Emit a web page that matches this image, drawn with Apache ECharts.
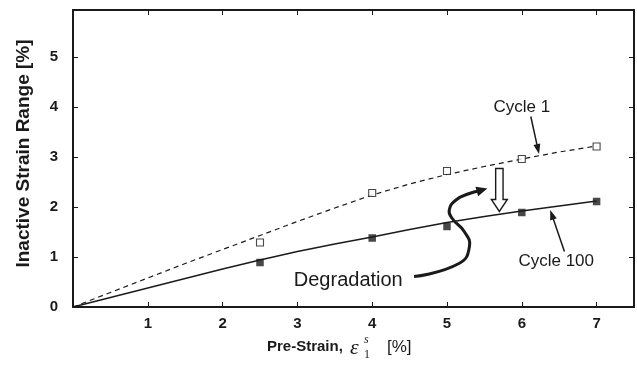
<!DOCTYPE html>
<html>
<head>
<meta charset="utf-8">
<script src="https://cdn.jsdelivr.net/npm/echarts@6/dist/echarts.min.js"></script>
<style>html,body{margin:0;padding:0;background:#fff}#c{width:637px;height:372px}</style>
</head>
<body>
<div id="c"></div>
<script>
// ---- data ----
const strain = [2.5, 4, 5, 6, 7];
const cycle1 = [1.29, 2.28, 2.72, 2.96, 3.21];
const cycle100 = [0.89, 1.38, 1.61, 1.89, 2.11];
const fitX = [0, 0.5, 1, 1.5, 2, 2.5, 3, 3.5, 4, 4.5, 5, 5.5, 6, 6.5, 7];
const fitCycle1 = [0, 0.29, 0.58, 0.87, 1.15, 1.43, 1.71, 1.98, 2.24, 2.46, 2.65, 2.81, 2.96, 3.10, 3.22];
const fitCycle100 = [0, 0.19, 0.38, 0.57, 0.76, 0.94, 1.11, 1.26, 1.40, 1.55, 1.69, 1.81, 1.92, 2.02, 2.12];
const xTicks = [1, 2, 3, 4, 5, 6, 7];
const yTicks = [0, 1, 2, 3, 4, 5];
// annotations (data units)
const cycle1Label = [6.0, 4.0];
const cycle1Arrow = [[6.12, 3.81], [6.23, 3.06]];
const cycle100Label = [6.46, 0.91];
const cycle100Arrow = [[6.57, 1.11], [6.38, 1.94]];
const degradationLabel = [3.68, 0.53];
const sCurve = [[4.56, 0.61], [5.16, 0.87], [5.30, 1.21], [5.23, 1.51], [5.07, 1.77], [5.03, 1.94], [5.12, 2.14], [5.30, 2.27], [5.54, 2.37]];
const hollowArrow = {x: 5.7, top: 2.77, headStart: 2.15, tip: 1.91};

const INK = '#1a1a1a';
const SANS = '"Liberation Sans", Arial, Helvetica, sans-serif';
const SERIF = '"Liberation Serif", "Times New Roman", serif';

const chart = echarts.init(document.getElementById('c'), null, {renderer: 'canvas'});
const pair = (xs, ys) => xs.map((x, i) => [x, ys[i]]);

const axisCommon = {
  type: 'value',
  axisLine: {show: true, onZero: false, lineStyle: {color: INK, width: 2}},
  axisTick: {show: true, inside: true, length: 5, lineStyle: {color: INK, width: 1}},
  splitLine: {show: false}
};

chart.setOption({
  animation: false,
  backgroundColor: '#fff',
  grid: {left: 73, right: 3, top: 10, bottom: 65, containLabel: false},
  xAxis: [
    Object.assign({}, axisCommon, {
      min: 0, max: 7.5, interval: 1, position: 'bottom',
      axisLabel: {margin: 9, color: INK, fontFamily: SANS, fontWeight: 'bold', fontSize: 15,
        formatter: v => xTicks.includes(v) ? String(v) : ''}
    }),
    Object.assign({}, axisCommon, {
      min: 0, max: 7.5, interval: 1, position: 'top', axisLabel: {show: false}
    })
  ],
  yAxis: [
    Object.assign({}, axisCommon, {
      min: 0, max: 5.94, interval: 1, position: 'left',
      name: 'Inactive Strain Range [%]', nameLocation: 'middle', nameGap: 40,
      nameTextStyle: {color: INK, fontFamily: SANS, fontWeight: 'bold', fontSize: 19, padding: [0, 0, 0, 10]},
      axisLabel: {margin: 15, color: INK, fontFamily: SANS, fontWeight: 'bold', fontSize: 15,
        formatter: v => yTicks.includes(v) ? String(v) : ''}
    }),
    Object.assign({}, axisCommon, {
      min: 0, max: 5.94, interval: 1, position: 'right', axisLabel: {show: false}
    })
  ],
  series: [
    {type: 'line', name: 'fit1', data: pair(fitX, fitCycle1), showSymbol: false, symbol: 'none',
      lineStyle: {color: INK, width: 1.2, type: [5, 4]}, z: 2},
    {type: 'line', name: 'fit100', data: pair(fitX, fitCycle100), showSymbol: false, symbol: 'none',
      lineStyle: {color: INK, width: 1.4}, z: 2},
    {type: 'scatter', name: 'Cycle 1', data: pair(strain, cycle1), symbol: 'rect', symbolSize: 7,
      itemStyle: {color: '#fff', borderColor: INK, borderWidth: 1.1}, z: 3},
    {type: 'scatter', name: 'Cycle 100', data: pair(strain, cycle100), symbol: 'rect', symbolSize: 7.5,
      itemStyle: {color: INK}, z: 3}
  ]
});

const px = p => chart.convertToPixel({xAxisIndex: 0, yAxisIndex: 0}, p);

function arrow(p0, p1, headLen, headHalf, width) {
  const a = px(p0), b = px(p1);
  const dx = b[0] - a[0], dy = b[1] - a[1];
  const L = Math.hypot(dx, dy); const ux = dx / L, uy = dy / L;
  const bx = b[0] - ux * headLen, by = b[1] - uy * headLen;
  return [
    {type: 'line', shape: {x1: a[0], y1: a[1], x2: bx + ux, y2: by + uy},
      style: {stroke: INK, lineWidth: width}, z: 10},
    {type: 'polygon', shape: {points: [b, [bx - uy * headHalf, by + ux * headHalf], [bx + uy * headHalf, by - ux * headHalf]]},
      style: {fill: INK}, z: 10}
  ];
}

function label(text, at, size) {
  const p = px(at);
  return {type: 'text', x: p[0], y: p[1], z: 10,
    style: {text: text, fill: INK, font: size + 'px ' + SANS, align: 'center', verticalAlign: 'middle'}};
}

const g = [];
g.push(label('Cycle 1', cycle1Label, 17));
g.push(...arrow(cycle1Arrow[0], cycle1Arrow[1], 10, 3.5, 1.5));
g.push(label('Cycle 100', cycle100Label, 17));
g.push(...arrow(cycle100Arrow[0], cycle100Arrow[1], 10, 3.5, 1.5));
g.push(label('Degradation', degradationLabel, 20));

// S-shaped arrow
const sp = sCurve.map(px);
const last = sp[sp.length - 1], prev = sp[sp.length - 2];
{
  const dx = last[0] - prev[0], dy = last[1] - prev[1];
  const L = Math.hypot(dx, dy); const ux = dx / L, uy = dy / L;
  const hl = 11, hh = 5;
  const bx = last[0] - ux * hl, by = last[1] - uy * hl;
  const body = sp.slice(0, -1).concat([[bx + ux * 2, by + uy * 2]]);
  g.push({type: 'polyline', shape: {points: body, smooth: 0.5}, style: {stroke: INK, lineWidth: 3, fill: null}, z: 10});
  g.push({type: 'polygon', shape: {points: [last, [bx - uy * hh, by + ux * hh], [bx + uy * hh, by - ux * hh]]}, style: {fill: INK}, z: 10});
}

// hollow block arrow
{
  const t = px([hollowArrow.x, hollowArrow.top]);
  const h = px([hollowArrow.x, hollowArrow.headStart]);
  const tip = px([hollowArrow.x, hollowArrow.tip]);
  const sw = 3.7, hw = 8;
  g.push({type: 'polygon', z: 10, shape: {points: [
    [t[0] - sw, t[1]], [t[0] + sw, t[1]], [t[0] + sw, h[1]], [t[0] + hw, h[1]],
    [tip[0], tip[1]], [t[0] - hw, h[1]], [t[0] - sw, h[1]]]},
    style: {fill: '#fff', stroke: INK, lineWidth: 1.4}});
}

// x-axis title with epsilon notation
const xTitleY = 347;
g.push({type: 'text', x: 267, y: xTitleY, z: 10, style: {text: 'Pre-Strain,', fill: INK, font: 'bold 15px ' + SANS, verticalAlign: 'middle'}});
g.push({type: 'text', x: 350, y: xTitleY + 1, z: 10, style: {text: 'ε', fill: INK, font: 'italic 22px ' + SERIF, verticalAlign: 'middle'}});
g.push({type: 'text', x: 364, y: xTitleY - 7, z: 10, style: {text: 's', fill: INK, font: 'italic 12px ' + SERIF, verticalAlign: 'middle'}});
g.push({type: 'text', x: 364, y: xTitleY + 8, z: 10, style: {text: '1', fill: INK, font: '12px ' + SERIF, verticalAlign: 'middle'}});
g.push({type: 'text', x: 387, y: xTitleY, z: 10, style: {text: '[%]', fill: INK, font: '17px ' + SANS, verticalAlign: 'middle'}});

chart.setOption({graphic: {elements: g}});
</script>
</body>
</html>
